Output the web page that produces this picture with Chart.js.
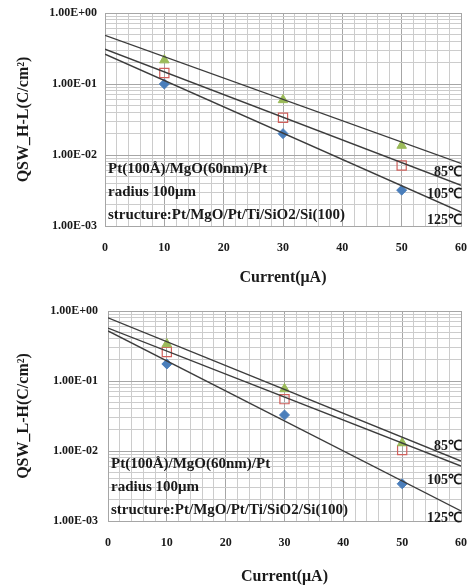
<!DOCTYPE html>
<html>
<head>
<meta charset="utf-8">
<script src="https://cdn.jsdelivr.net/npm/chart.js@4/dist/chart.umd.min.js"></script>
<style>
  body { margin: 0; background: #fff; width: 470px; height: 586px; overflow: hidden; }
  .box { position: absolute; left: 0; width: 470px; }
  #top { top: 0; height: 290px; }
  #bottom { top: 290px; height: 296px; }
</style>
</head>
<body>
<div class="box" id="top"><canvas id="chartHL"></canvas></div>
<div class="box" id="bottom"><canvas id="chartLH"></canvas></div>
<script>
// values
const currents = [10, 30, 50];
const fitX = [0, 60];
const temps = ['85℃', '105℃', '125℃'];
const notes = ['Pt(100Å)/MgO(60nm)/Pt', 'radius 100μm', 'structure:Pt/MgO/Pt/Ti/SiO2/Si(100)'];

// H-L
const hl85 = [0.217, 0.0597, 0.0136];
const hl105 = [0.143, 0.0334, 0.0071];
const hl125 = [0.100, 0.0200, 0.0032];
const hlFit85 = [0.484, 0.0076];
const hlFit105 = [0.309, 0.00374];
const hlFit125 = [0.263, 0.00157];

// L-H
const lh85 = [0.338, 0.0769, 0.0130];
const lh105 = [0.260, 0.0550, 0.0103];
const lh125 = [0.175, 0.0327, 0.0034];
const lhFit85 = [0.80, 0.0072];
const lhFit105 = [0.571, 0.0061];
const lhFit125 = [0.518, 0.00139];

const serif = '"Liberation Serif", "Times New Roman", serif';

function pts(xs, ys) {
    return xs.map((x, i) => ({x: x, y: ys[i]}));
}

function isDecade(v) {
    const e = Math.round(Math.log10(v));
    return Math.abs(v / Math.pow(10, e) - 1) < 1e-6;
}

function sci(v) {
    const e = Math.round(Math.log10(v));
    return '1.00E' + (e < 0 ? '-' : '+') + String(Math.abs(e)).padStart(2, '0');
}

// text on the plot: note block bottom-left, temperature labels at the right edge
const textPlugin = {
    id: 'texts',
    afterDatasetsDraw(chart) {
        const o = chart.options.plugins.texts;
        const area = chart.chartArea;
        const ctx = chart.ctx;
        const ys = chart.scales.y;
        ctx.save();
        ctx.fillStyle = '#1a1a1a';
        ctx.font = 'bold 15px ' + serif;
        ctx.textBaseline = 'middle';
        ctx.textAlign = 'left';
        notes.forEach((t, i) => {
            ctx.fillText(t, area.left + 3, area.bottom - 11 - (notes.length - 1 - i) * 23);
        });
        ctx.font = 'bold 14px ' + serif;
        ctx.textAlign = 'right';
        temps.forEach((t, i) => {
            const y = ys.getPixelForValue(o.fitEnds[i]) + o.offsets[i];
            ctx.fillText(t, area.right + 1, y);
        });
        ctx.restore();
    }
};

function makeChart(id, yTitle, s85, s105, s125, f85, f105, f125, pad, yWidth, xHeight, yPad, titlePad, offsets) {
    const trend = (d) => ({
        type: 'line', data: pts(fitX, d), borderColor: '#3c3c3c', borderWidth: 1.4,
        pointRadius: 0, fill: false
    });
    return new Chart(document.getElementById(id), {
        type: 'scatter',
        data: {
            datasets: [
                trend(f85), trend(f105), trend(f125),
                {data: pts(currents, s85), pointStyle: 'triangle', pointRadius: 5.5,
                 backgroundColor: '#9BBB59', borderColor: '#9BBB59', borderWidth: 1},
                {data: pts(currents, s105), pointStyle: 'rect', pointRadius: 6.5,
                 backgroundColor: 'rgba(255,255,255,0)', borderColor: '#D0605C', borderWidth: 1.2},
                {data: pts(currents, s125), pointStyle: 'rectRot', pointRadius: 5,
                 backgroundColor: '#4A7EBB', borderColor: '#4A7EBB', borderWidth: 1}
            ]
        },
        options: {
            responsive: true,
            maintainAspectRatio: false,
            animation: false,
            layout: {padding: pad},
            plugins: {
                legend: {display: false},
                tooltip: {enabled: false},
                texts: {fitEnds: [f85[1], f105[1], f125[1]], offsets: offsets}
            },
            scales: {
                x: {
                    type: 'linear', min: 0, max: 60,
                    ticks: {
                        stepSize: 2, autoSkip: false, maxRotation: 0, padding: 15,
                        color: '#1a1a1a', font: {family: serif, size: 12, weight: 'bold'},
                        callback: (v) => (v % 10 === 0 ? String(v) : '')
                    },
                    grid: {
                        drawTicks: false,
                        color: (c) => (c.tick && c.tick.value % 10 === 0 ? '#a6a6a6' : '#cccccc'),
                        lineWidth: 1
                    },
                    border: {color: '#a6a6a6'},
                    title: {
                        display: true, text: 'Current(μA)', color: '#1a1a1a',
                        font: {family: serif, size: 16, weight: 'bold'}, padding: {top: 0, bottom: titlePad}
                    },
                    afterFit: (s) => { s.height = xHeight; s.paddingLeft = 0; s.paddingRight = 0; }
                },
                y: {
                    type: 'logarithmic', min: 0.001, max: 1,
                    afterBuildTicks: (s) => {
                        const t = [];
                        for (let e = -3; e < 0; e++) {
                            for (let m = 1; m < 10; m++) t.push({value: m * Math.pow(10, e)});
                        }
                        t.push({value: 1});
                        s.ticks = t;
                    },
                    ticks: {
                        autoSkip: false, padding: yPad, color: '#1a1a1a',
                        font: {family: serif, size: 12, weight: 'bold'},
                        callback: (v) => (isDecade(v) ? sci(v) : '')
                    },
                    grid: {
                        drawTicks: false,
                        color: (c) => (c.tick && isDecade(c.tick.value) ? '#a6a6a6' : '#cccccc'),
                        lineWidth: 1
                    },
                    border: {color: '#a6a6a6'},
                    title: {
                        display: true, text: yTitle, color: '#1a1a1a',
                        font: {family: serif, size: 16, weight: 'bold'}, padding: {top: 14, bottom: 0}
                    },
                    afterFit: (s) => { s.width = yWidth; s.paddingTop = 0; s.paddingBottom = 0; }
                }
            }
        },
        plugins: [textPlugin]
    });
}

makeChart('chartHL', 'QSW_H-L(C/cm²)', hl85, hl105, hl125, hlFit85, hlFit105, hlFit125,
    {left: 0, right: 9, top: 13, bottom: 0}, 105, 64, 8, 3, [9, 9, 8]);
makeChart('chartLH', 'QSW_L-H(C/cm²)', lh85, lh105, lh125, lhFit85, lhFit105, lhFit125,
    {left: 0, right: 9, top: 21, bottom: 0}, 108, 65, 10, 0, [-15, 14, 7]);
</script>
</body>
</html>
